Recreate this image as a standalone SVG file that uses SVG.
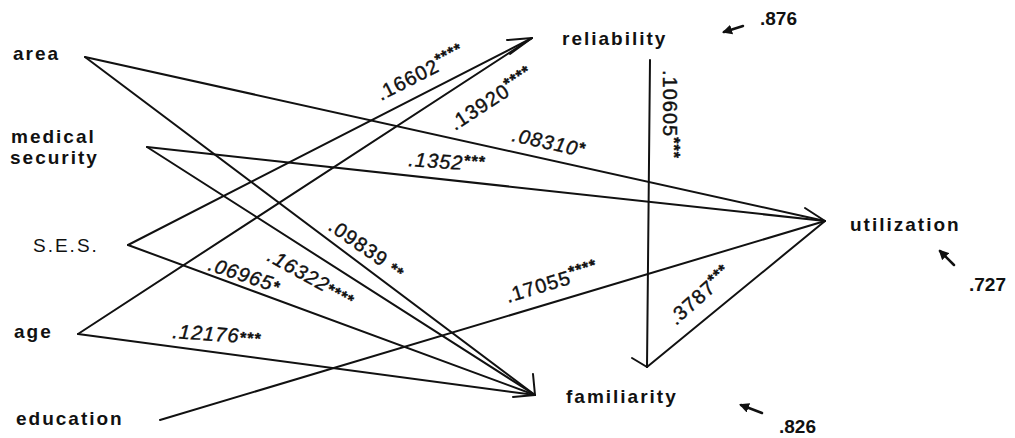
<svg xmlns="http://www.w3.org/2000/svg" width="1015" height="438" viewBox="0 0 1015 438">
<style>
.lbl{font-family:"Liberation Sans",Arial,sans-serif;font-weight:bold;font-size:19px;letter-spacing:2px;fill:#111}
.reg{font-weight:normal}
.coef{font-family:"Liberation Sans",Arial,sans-serif;font-size:20px;letter-spacing:1px;fill:#111;stroke:#111;stroke-width:0.4}
.it{font-style:italic}
.st{font-size:16px;font-weight:bold}
.edge{fill:none;stroke:#111;stroke-width:2;stroke-linecap:round;stroke-linejoin:round}
.res{fill:none;stroke:#111;stroke-width:2.5;stroke-linecap:round}
</style>
<defs>
<marker id="ah" viewBox="0 0 10 10" refX="8" refY="5" markerWidth="4" markerHeight="4" orient="auto">
<path d="M0,0 L10,5 L0,10 z" fill="#111"/>
</marker>
</defs>
<rect width="1015" height="438" fill="#fff"/>

<g id="connectors">
<line class="edge" x1="85" y1="57" x2="825" y2="221"/>
<line class="edge" x1="85" y1="57" x2="535" y2="395"/>
<line class="edge" x1="147" y1="147" x2="825" y2="221"/>
<line class="edge" x1="147" y1="147" x2="535" y2="395"/>
<line class="edge" x1="128" y1="245" x2="532" y2="38"/>
<line class="edge" x1="128" y1="245" x2="535" y2="395"/>
<line class="edge" x1="78" y1="334" x2="532" y2="38"/>
<line class="edge" x1="78" y1="334" x2="535" y2="395"/>
<line class="edge" x1="160" y1="420" x2="825" y2="221"/>
<line class="edge" x1="650" y1="60" x2="647" y2="367"/>
<line class="edge" x1="647" y1="367" x2="825" y2="221"/>
<path class="edge" d="M507,40 L532,38 L510,54"/>
<path class="edge" d="M533,374 L535,395 L513,397"/>
<path class="edge" d="M632,358 L647,367"/>
<path class="edge" d="M805,208 L825,221"/>

<text class="coef" transform="translate(381,101) rotate(-27)">.16602<tspan class="st" dy="-6">****</tspan></text>
<text class="coef" transform="translate(455,131) rotate(-33)">.13920<tspan class="st" dy="-6">****</tspan></text>
<text class="coef it" transform="translate(511,141) rotate(12.5)">.08310<tspan class="st" dy="-3">*</tspan></text>
<text class="coef it" transform="translate(408,166) rotate(4)">.1352<tspan class="st" dy="-4">***</tspan></text>
<text class="coef" transform="translate(663,70) rotate(90)">.10605<tspan class="st" dy="-5">***</tspan></text>
<text class="coef" transform="translate(327,229) rotate(35)">.09839 <tspan class="st">**</tspan></text>
<text class="coef it" transform="translate(266,260) rotate(29)">.16322<tspan class="st">****</tspan></text>
<text class="coef it" transform="translate(207,270) rotate(18)">.06965<tspan class="st">*</tspan></text>
<text class="coef it" transform="translate(172,338) rotate(4)">.12176<tspan class="st">***</tspan></text>
<text class="coef" transform="translate(508,303) rotate(-17)">.17055<tspan class="st" dy="-6">****</tspan></text>
<text class="coef" transform="translate(676,326) rotate(-42)">.3787<tspan class="st" dy="-5">***</tspan></text>
</g>

<g id="area"><text class="lbl" x="13" y="60">area</text></g>
<g id="medical-security"><text class="lbl" x="11" y="143">medical</text><text class="lbl" x="10" y="164">security</text></g>
<g id="ses"><text class="lbl reg" x="33" y="252">S.E.S.</text></g>
<g id="age"><text class="lbl" x="14" y="338">age</text></g>
<g id="education"><text class="lbl" x="16" y="425">education</text></g>
<g id="reliability"><text class="lbl" x="562" y="45">reliability</text></g>
<g id="utilization"><text class="lbl" x="850" y="231">utilization</text></g>
<g id="familiarity"><text class="lbl" x="566" y="403">familiarity</text></g>

<g id="residuals">
<line class="res" x1="743" y1="26" x2="724" y2="32" marker-end="url(#ah)"/>
<text class="lbl" x="760" y="25" style="letter-spacing:0">.876</text>
<line class="res" x1="954" y1="265" x2="940" y2="251" marker-end="url(#ah)"/>
<text class="lbl" x="969" y="291" style="letter-spacing:0">.727</text>
<line class="res" x1="762" y1="413" x2="741" y2="405" marker-end="url(#ah)"/>
<text class="lbl" x="779" y="433" style="letter-spacing:0">.826</text>
</g>
</svg>
